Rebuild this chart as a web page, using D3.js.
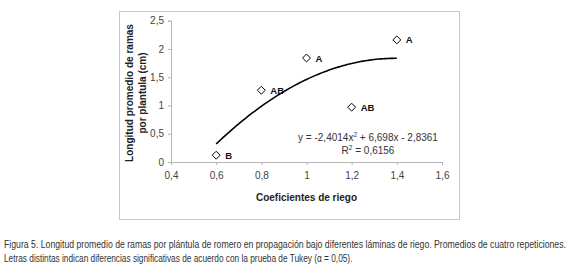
<!DOCTYPE html>
<html><head><meta charset="utf-8">
<script src="https://cdn.jsdelivr.net/npm/d3@7"></script>
<style>body{margin:0;background:#fff}svg{display:block}</style>
</head><body>
<script>
const coef = [0.6, 0.8, 1.0, 1.2, 1.4];
const longitud = [0.12, 1.27, 1.84, 0.97, 2.16];
const letras = ["B", "AB", "A", "AB", "A"];
const xTicks = [0.4, 0.6, 0.8, 1.0, 1.2, 1.4, 1.6];
const yTicks = [0, 0.5, 1, 1.5, 2, 2.5];
const trend = {a: -2.4014, b: 6.698, c: -2.8361, from: 0.6, to: 1.4};
const eqText = ["y = -2,4014x", "2", " + 6,698x - 2,8361"];
const r2Text = "0,6156";
const caption = [
  "Figura 5. Longitud promedio de ramas por plántula de romero en propagación bajo diferentes láminas de riego. Promedios de cuatro repeticiones.",
  "Letras distintas indican diferencias significativas de acuerdo con la prueba de Tukey (α = 0,05)."
];
const captionWidths = [563, 349];

const W = 580, H = 269;
const svg = d3.select("body").append("svg").attr("width", W).attr("height", H)
  .style("font-family", "Liberation Sans, Arial, sans-serif");

// frame
svg.append("rect").attr("x", 119.5).attr("y", 11.5).attr("width", 340).attr("height", 208)
  .attr("fill", "none").attr("stroke", "#c8c8c8").attr("stroke-width", 1);

const x = d3.scaleLinear().domain([0.4, 1.6]).range([171, 442]);
const y = d3.scaleLinear().domain([0, 2.5]).range([162, 20.7]);
const fmt = d => d3.format("")(d).replace(".", ",");

const xAxis = svg.append("g").attr("transform", "translate(0,162)")
  .call(d3.axisBottom(x).tickValues(xTicks).tickSize(3).tickFormat(fmt));
const yAxis = svg.append("g").attr("transform", "translate(171,0)")
  .call(d3.axisLeft(y).tickValues(yTicks).tickSize(3).tickFormat(fmt));
[xAxis, yAxis].forEach(g => {
  g.select(".domain").attr("stroke", "#b5b5b5");
  g.selectAll(".tick line").attr("stroke", "#b5b5b5");
  g.selectAll(".tick text").attr("fill", "#444").style("font-size", "10px")
    .style("font-family", "Liberation Sans, Arial, sans-serif");
});
xAxis.selectAll(".tick text").attr("dy", "0.71em").attr("y", 10);
yAxis.selectAll(".tick text").attr("x", -7);

// trendline
const pts = d3.range(0, 81).map(i => {
  const xv = trend.from + (trend.to - trend.from) * i / 80;
  return [xv, trend.a * xv * xv + trend.b * xv + trend.c];
});
svg.append("path").datum(pts)
  .attr("d", d3.line().x(d => x(d[0])).y(d => y(d[1])))
  .attr("fill", "none").attr("stroke", "#000").attr("stroke-width", 1.6);

// markers
const sym = d3.symbol().type(d3.symbolDiamond2).size(40);
svg.selectAll("path.pt").data(coef).join("path").attr("class", "pt")
  .attr("transform", (d, i) => `translate(${x(d)},${y(longitud[i])})`)
  .attr("d", sym).attr("fill", "#fff").attr("stroke", "#000").attr("stroke-width", 1);

svg.selectAll("text.lab").data(coef).join("text").attr("class", "lab")
  .attr("x", d => x(d) + 9).attr("y", (d, i) => y(longitud[i]) + 3.5)
  .text((d, i) => letras[i]).style("font-size", "9.5px").style("font-weight", "bold").attr("fill", "#111");

// equation
const eq = svg.append("text").attr("x", 368).attr("y", 141).attr("text-anchor", "middle")
  .style("font-size", "10px").attr("fill", "#333");
eq.append("tspan").text(eqText[0]);
eq.append("tspan").text(eqText[1]).attr("dy", -4).style("font-size", "6.5px");
eq.append("tspan").text(eqText[2]).attr("dy", 4);
const r2 = svg.append("text").attr("x", 368).attr("y", 154).attr("text-anchor", "middle")
  .style("font-size", "10px").attr("fill", "#333");
r2.append("tspan").text("R");
r2.append("tspan").text("2").attr("dy", -4).style("font-size", "6.5px");
r2.append("tspan").text(" = " + r2Text).attr("dy", 4);

// axis titles
svg.append("text").attr("x", 306.5).attr("y", 201).attr("text-anchor", "middle")
  .style("font-size", "10px").style("font-weight", "bold").attr("fill", "#222")
  .text("Coeficientes de riego");
const yt = svg.append("text").attr("transform", "translate(0,93) rotate(-90)")
  .attr("text-anchor", "middle").style("font-size", "10px").style("font-weight", "bold").attr("fill", "#222");
yt.append("tspan").attr("x", 0).attr("y", 133).text("Longitud promedio de ramas");
yt.append("tspan").attr("x", 0).attr("y", 145.5).text("por plantula (cm)");

// caption (condensed via horizontal scaling)
caption.forEach((c, i) => {
  const g = svg.append("g").attr("transform", `translate(4,${248 + i * 13.5})`);
  const t = g.append("text").attr("x", 0).attr("y", 0)
    .style("font-size", "10px").attr("fill", "#333").text(c);
  const len = t.node().getComputedTextLength();
  g.attr("transform", `translate(4,${248 + i * 13.5}) scale(${captionWidths[i] / len},1)`);
});
</script>
</body></html>
